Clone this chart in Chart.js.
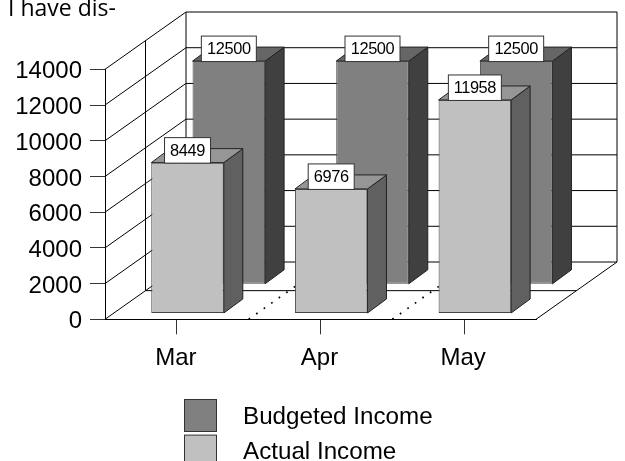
<!DOCTYPE html>
<html>
<head>
<meta charset="utf-8">
<title>Income</title>
<script src="https://cdn.jsdelivr.net/npm/chart.js@4"></script>
<style>
    html, body { margin: 0; padding: 0; background: #fff; overflow: hidden; }
    canvas { display: block; }
</style>
</head>
<body>
<canvas id="incomeChart" width="625" height="461"></canvas>
<script>
const months = ['Mar', 'Apr', 'May'];
const budgetedIncome = [12500, 12500, 12500];
const actualIncome = [8449, 6976, 11958];
const yTicks = [0, 2000, 4000, 6000, 8000, 10000, 12000, 14000];

const labelFont = '"Liberation Sans", Arial, sans-serif';

// how far the back wall sits behind the front plane
const wall = { x: 81, y: -57.3 };
const sideDepth = { x: 19, y: -14 };

// look of each bar series, and where it stands inside the depth of the box
const looks = {
    'Budgeted Income': { shift: { x: 52, y: -35 }, side: '#404040', top: '#666666' },
    'Actual Income': { shift: { x: 10.7, y: -5.8 }, side: '#606060', top: '#969696' }
};

function strokeLine(ctx, x1, y1, x2, y2) {
    ctx.beginPath();
    ctx.moveTo(x1, y1);
    ctx.lineTo(x2, y2);
    ctx.stroke();
}

function fillPoly(ctx, points, fill, stroke) {
    ctx.beginPath();
    points.forEach((p, i) => (i ? ctx.lineTo(p[0], p[1]) : ctx.moveTo(p[0], p[1])));
    ctx.closePath();
    ctx.fillStyle = fill;
    ctx.fill();
    ctx.strokeStyle = stroke;
    ctx.lineWidth = 1;
    ctx.stroke();
}

const box3d = {
    id: 'box3d',
    // walls, floor and their grid, behind all the bars
    beforeDatasetsDraw(chart) {
        const { ctx, chartArea: area, scales } = chart;
        const bottom = area.bottom;
        ctx.save();
        ctx.lineWidth = 1;
        ctx.strokeStyle = '#000';

        yTicks.forEach(value => {
            const y = scales.y.getPixelForValue(value);
            strokeLine(ctx, area.left, y, area.left + wall.x, y + wall.y);
            strokeLine(ctx, area.left + wall.x, y + wall.y, area.right + wall.x, y + wall.y);
        });
        const topY = scales.y.getPixelForValue(yTicks[yTicks.length - 1]);
        strokeLine(ctx, area.left + wall.x, topY + wall.y, area.left + wall.x, bottom + wall.y);
        strokeLine(ctx, area.right + wall.x, topY + wall.y, area.right + wall.x, bottom + wall.y);
        strokeLine(ctx, area.right, bottom, area.right + wall.x, bottom + wall.y);

        // middle divider on the side wall and the floor
        const midX = area.left + wall.x / 2;
        const midY = wall.y / 2;
        strokeLine(ctx, midX, topY + midY, midX, bottom + midY);
        strokeLine(ctx, midX, bottom + midY, area.right + wall.x / 2, bottom + midY);

        // dotted floor lines between the months
        ctx.setLineDash([1.7, 7.5]);
        ctx.lineWidth = 1.7;
        const step = (area.right - area.left) / months.length;
        for (let i = 1; i < months.length; i++) {
            const x = area.left + step * i;
            strokeLine(ctx, x, bottom, x + wall.x, bottom + wall.y);
        }
        ctx.restore();
    },
    // side and top of the bars, then the library's bar is drawn shifted as the front face
    beforeDatasetDraw(chart, args) {
        const { ctx } = chart;
        const meta = chart.getDatasetMeta(args.index);
        const look = looks[chart.data.datasets[args.index].label];
        ctx.save();
        ctx.translate(look.shift.x, look.shift.y);
        meta.data.forEach(bar => {
            const left = bar.x - bar.width / 2;
            const right = bar.x + bar.width / 2;
            const d = sideDepth;
            fillPoly(ctx, [[right, bar.y], [right + d.x, bar.y + d.y], [right + d.x, bar.base + d.y], [right, bar.base]], look.side, '#222');
            fillPoly(ctx, [[left, bar.y], [left + d.x, bar.y + d.y], [right + d.x, bar.y + d.y], [right, bar.y]], look.top, '#222');
        });
    },
    afterDatasetDraw(chart) {
        chart.ctx.restore();
    },
    afterDatasetsDraw(chart) {
        const { ctx } = chart;
        ctx.save();

        // value boxes
        ctx.font = '16.4px ' + labelFont;
        ctx.letterSpacing = '-0.4px';
        ctx.textAlign = 'center';
        ctx.textBaseline = 'middle';
        chart.data.datasets.forEach((dataset, index) => {
            const look = looks[dataset.label];
            chart.getDatasetMeta(index).data.forEach((bar, i) => {
                const text = String(dataset.data[i]);
                const w = Math.round(ctx.measureText(text).width) + 11;
                const cx = bar.x + look.shift.x;
                const top = bar.y + look.shift.y - 25;
                ctx.fillStyle = '#fff';
                ctx.strokeStyle = '#333';
                ctx.lineWidth = 1;
                ctx.fillRect(cx - w / 2, top, w, 25.5);
                ctx.strokeRect(cx - w / 2, top, w, 25.5);
                ctx.fillStyle = '#000';
                ctx.fillText(text, cx, top + 13.5);
            });
        });
        ctx.letterSpacing = '0px';

        // legend
        ctx.textAlign = 'left';
        ctx.textBaseline = 'alphabetic';
        ctx.font = '24.2px ' + labelFont;
        chart.data.datasets.forEach((dataset, index) => {
            const top = 399.5 + index * 35.6;
            ctx.fillStyle = dataset.backgroundColor;
            ctx.strokeStyle = '#333';
            ctx.lineWidth = 1;
            ctx.fillRect(184.5, top, 32, 32);
            ctx.strokeRect(184.5, top, 32, 32);
            ctx.fillStyle = '#000';
            ctx.fillText(dataset.label, 243, top + 24);
        });

        // clipped heading from the page the chart was cut out of
        ctx.font = '23px "Open Sans", sans-serif';
        ctx.fillText('I have dis-', 8, 15.5);
        ctx.restore();
    }
};

function createChart() {
    const ctx = document.getElementById('incomeChart').getContext('2d');
    new Chart(ctx, {
        type: 'bar',
        data: {
            labels: months,
            datasets: [{
                label: 'Budgeted Income',
                data: budgetedIncome,
                backgroundColor: '#808080',
                borderColor: '#444',
                borderWidth: 1,
                borderSkipped: false,
                order: 2,
                clip: false
            }, {
                label: 'Actual Income',
                data: actualIncome,
                backgroundColor: '#c0c0c0',
                borderColor: '#444',
                borderWidth: 1,
                borderSkipped: false,
                order: 1,
                clip: false
            }]
        },
        options: {
            responsive: false,
            animation: false,
            devicePixelRatio: 1,
            layout: { padding: { top: 69.3, right: 89, bottom: 0, left: 0 } },
            grouped: false,
            barPercentage: 1,
            categoryPercentage: 0.505,
            plugins: {
                legend: { display: false },
                title: { display: false },
                tooltip: { enabled: false }
            },
            scales: {
                x: {
                    afterFit: scale => { scale.height = 141.7; },
                    grid: { offset: false, drawOnChartArea: false, tickLength: 15, color: '#333' },
                    border: { color: '#000' },
                    ticks: {
                        color: '#000',
                        padding: 10,
                        labelOffset: -1,
                        maxRotation: 0,
                        font: { family: labelFont, size: 24 }
                    }
                },
                y: {
                    min: yTicks[0],
                    max: yTicks[yTicks.length - 1],
                    afterFit: scale => { scale.width = 105; },
                    afterBuildTicks: scale => { scale.ticks = yTicks.map(value => ({ value })); },
                    grid: { drawOnChartArea: false, tickLength: 15, color: '#333' },
                    border: { color: '#000' },
                    ticks: {
                        color: '#000',
                        padding: 8,
                        labelOffset: 2.5,
                        font: { family: labelFont, size: 24 },
                        callback: value => String(value)
                    }
                }
            }
        },
        plugins: [box3d]
    });
}

document.addEventListener('DOMContentLoaded', createChart);
</script>
</body>
</html>
